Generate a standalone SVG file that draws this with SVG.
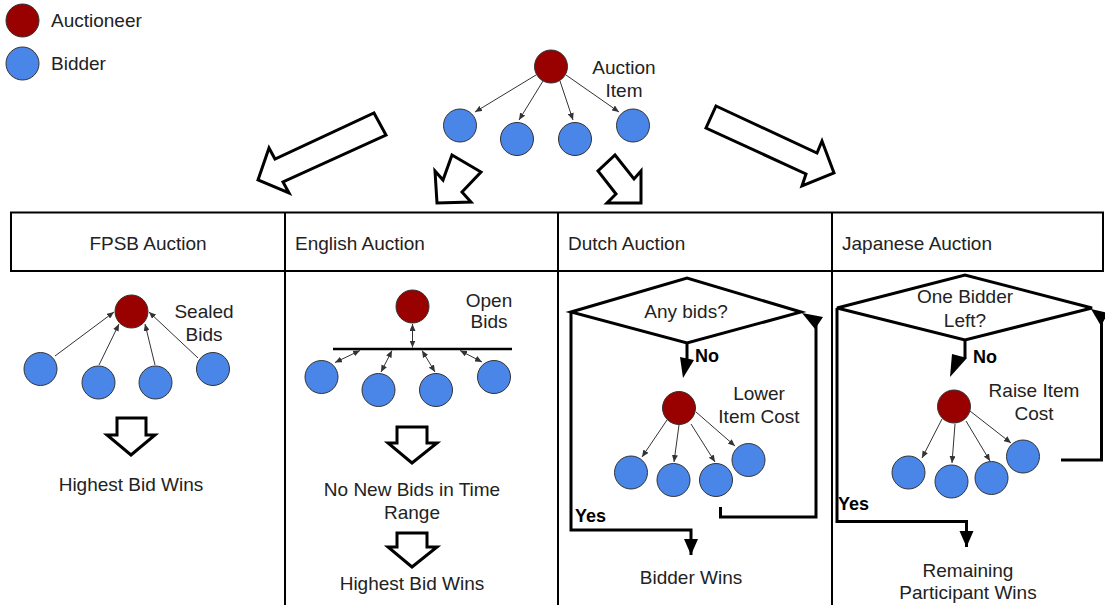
<svg xmlns="http://www.w3.org/2000/svg" width="1105" height="605" viewBox="0 0 1105 605">
  <style>
    text { font-family: "Liberation Sans", Arial, sans-serif; font-size: 19px; fill: #222; }
    .c { text-anchor: middle; }
    .b { font-weight: bold; font-size: 18px; fill: #000; }
    .auc { fill: #990000; stroke: #333; stroke-width: 1; }
    .bid { fill: #4a86e8; stroke: #333; stroke-width: 1; }
    .thin { stroke: #333; stroke-width: 1; fill: none; marker-end: url(#tip); }
    .dbl { stroke: #333; stroke-width: 1; fill: none; marker-end: url(#tip); marker-start: url(#tip); }
    .big { fill: #fff; stroke: #000; stroke-width: 3; stroke-linejoin: miter; }
    .grid { stroke: #000; stroke-width: 2; fill: none; }
    .flow { stroke: #000; stroke-width: 3; fill: none; }
    .head { fill: #000; stroke: none; }
  </style>
  <defs>
    <marker id="tip" markerUnits="userSpaceOnUse" markerWidth="7" markerHeight="6" refX="7" refY="3" orient="auto-start-reverse">
      <path d="M0,0 L7,3 L0,6 z" fill="#333"/>
    </marker>
    <marker id="bighead" markerUnits="userSpaceOnUse" markerWidth="16" markerHeight="16" refX="16" refY="7" orient="auto">
      <path d="M0,0 L16,7 L0,14 z" fill="#000"/>
    </marker>
  </defs>

  <!-- legend -->
  <g id="legend">
    <circle class="auc" cx="22.5" cy="20.5" r="16.5"/>
    <text x="51" y="27">Auctioneer</text>
    <circle class="bid" cx="22.5" cy="63.5" r="16.5"/>
    <text x="51" y="70">Bidder</text>
  </g>

  <!-- central auction item tree -->
  <g id="item-tree">
    <circle class="auc" cx="551" cy="66.5" r="16.5"/>
    <circle class="bid" cx="460" cy="125.5" r="16.5"/>
    <circle class="bid" cx="517" cy="139" r="16.5"/>
    <circle class="bid" cx="575" cy="139" r="16.5"/>
    <circle class="bid" cx="633" cy="125.5" r="16.5"/>
    <text class="c" x="624" y="74">Auction</text>
    <text class="c" x="624" y="97">Item</text>
  </g>

  <!-- hollow arrows fanning out to the four auction types -->
  <g id="fan-arrows">
    <polygon class="big" points="374,113 386,135 283,182 289,193 258,180 269,148 275,159"/>
    <polygon class="big" points="452,155 481,172 462,192 471,202 437,203 435,171 443,180"/>
    <polygon class="big" points="615,155 634,179 641,171 641,203 607,203 616,194 598,171"/>
    <polygon class="big" points="716,106 817,153 822,141 834,173 802,186 806,174 706,128"/>
  </g>

  <!-- table frame -->
  <g id="table">
    <rect class="grid" x="11" y="212.5" width="1092" height="58.5"/>
    <line class="grid" x1="285" y1="212.5" x2="285" y2="605"/>
    <line class="grid" x1="558" y1="212.5" x2="558" y2="605"/>
    <line class="grid" x1="832" y1="212.5" x2="832" y2="605"/>
    <text class="c" x="148" y="250">FPSB Auction</text>
    <text x="295" y="250">English Auction</text>
    <text x="568" y="250">Dutch Auction</text>
    <text x="842" y="250">Japanese Auction</text>
  </g>

  <!-- FPSB -->
  <g id="fpsb">
    <circle class="auc" cx="131.5" cy="311.5" r="16.5"/>
    <circle class="bid" cx="40.5" cy="369" r="16.5"/>
    <circle class="bid" cx="98.5" cy="382.5" r="16.5"/>
    <circle class="bid" cx="155.5" cy="382.5" r="16.5"/>
    <circle class="bid" cx="213" cy="369" r="16.5"/>
    <text class="c" x="204" y="318">Sealed</text>
    <text class="c" x="204" y="341">Bids</text>
    <polygon class="big" points="117,418 146,418 146,435 155,435 131,455 107,435 117,435"/>
    <text class="c" x="131" y="491">Highest Bid Wins</text>
  </g>

  <!-- English -->
  <g id="english">
    <circle class="auc" cx="412.5" cy="306.5" r="16.5"/>
    <line x1="333" y1="349" x2="512" y2="349" stroke="#000" stroke-width="2.5"/>
    <circle class="bid" cx="321.5" cy="377" r="16.5"/>
    <circle class="bid" cx="378.5" cy="390" r="16.5"/>
    <circle class="bid" cx="436" cy="390" r="16.5"/>
    <circle class="bid" cx="494" cy="377" r="16.5"/>
    <text class="c" x="489" y="307">Open</text>
    <text class="c" x="489" y="328">Bids</text>
    <polygon class="big" points="397,427 427,427 427,443 437,443 412,463 388,443 397,443"/>
    <text class="c" x="412" y="496">No New Bids in Time</text>
    <text class="c" x="412" y="519">Range</text>
    <polygon class="big" points="397,533 427,533 427,547 437,547 412,567 388,547 397,547"/>
    <text class="c" x="412" y="590">Highest Bid Wins</text>
  </g>

  <!-- Dutch -->
  <g id="dutch">
    <polygon class="flow" points="571,312 687,278 801,312 687,343" fill="#fff"/>
    <text class="c" x="686" y="318">Any bids?</text>
    <text class="b" x="695" y="362">No</text>
    <circle class="auc" cx="679" cy="408" r="16.5"/>
    <circle class="bid" cx="631" cy="472.5" r="16.5"/>
    <circle class="bid" cx="673.5" cy="480" r="16.5"/>
    <circle class="bid" cx="716" cy="480" r="16.5"/>
    <circle class="bid" cx="748.5" cy="460" r="16.5"/>
    <text class="c" x="759" y="400">Lower</text>
    <text class="c" x="759" y="423">Item Cost</text>
    <text class="b" x="575" y="522">Yes</text>
    <text class="c" x="691" y="584">Bidder Wins</text>
  </g>

  <!-- Japanese -->
  <g id="japanese">
    <polygon class="flow" points="837,308 965,275 1092,308 965,340" fill="#fff"/>
    <text class="c" x="965" y="303">One Bidder</text>
    <text class="c" x="965" y="327">Left?</text>
    <text class="b" x="973" y="363">No</text>
    <circle class="auc" cx="954" cy="406.5" r="16.5"/>
    <circle class="bid" cx="908.5" cy="472.5" r="16.5"/>
    <circle class="bid" cx="951.5" cy="481.5" r="16.5"/>
    <circle class="bid" cx="991.5" cy="478" r="16.5"/>
    <circle class="bid" cx="1023" cy="456.5" r="16.5"/>
    <text class="c" x="1034" y="397">Raise Item</text>
    <text class="c" x="1034" y="420">Cost</text>
    <text class="b" x="838" y="510">Yes</text>
    <text class="c" x="968" y="577">Remaining</text>
    <text class="c" x="968" y="599">Participant Wins</text>
  </g>

  <!-- connectors -->
  <g id="connectors">
    <!-- item tree -->
    <line class="thin" x1="536" y1="75" x2="475" y2="112"/>
    <line class="thin" x1="543" y1="81" x2="519" y2="120"/>
    <line class="thin" x1="560" y1="81" x2="573" y2="120"/>
    <line class="thin" x1="566" y1="75" x2="619" y2="112"/>
    <!-- sealed bids -->
    <line class="thin" x1="55" y1="356" x2="114" y2="312"/>
    <line class="thin" x1="99" y1="365" x2="119" y2="324"/>
    <line class="thin" x1="155" y1="365" x2="145" y2="324"/>
    <line class="thin" x1="198" y1="358" x2="149" y2="312"/>
    <!-- open bids -->
    <line class="dbl" x1="412.5" y1="324" x2="412.5" y2="347.5"/>
    <line class="dbl" x1="360" y1="350.5" x2="335" y2="362.5"/>
    <line class="dbl" x1="392" y1="350.5" x2="381" y2="372"/>
    <line class="dbl" x1="422" y1="350.5" x2="435" y2="372"/>
    <line class="dbl" x1="460" y1="350.5" x2="482" y2="362"/>
    <!-- dutch price drop -->
    <line class="thin" x1="667" y1="420" x2="642" y2="457"/>
    <line class="thin" x1="679" y1="425" x2="674" y2="462"/>
    <line class="thin" x1="691" y1="424" x2="715" y2="462"/>
    <line class="thin" x1="696" y1="412" x2="735" y2="446"/>
    <!-- japanese price rise -->
    <line class="thin" x1="942" y1="419" x2="922" y2="458"/>
    <line class="thin" x1="955" y1="424" x2="952" y2="463"/>
    <line class="thin" x1="966" y1="421" x2="990" y2="461"/>
    <line class="thin" x1="970" y1="411" x2="1011" y2="443"/>
    <!-- dutch flow -->
    <path class="flow" d="M687,343 V359"/>
    <polygon class="head" points="680,357 694,360 683,378"/>
    <path class="flow" d="M571,312 V530 H691 V555" marker-end="url(#bighead)"/>
    <path class="flow" d="M720.5,507 V517 H816 V322"/>
    <polygon class="head" points="802,313 823,317 815,329"/>
    <!-- japanese flow -->
    <path class="flow" d="M965,340 V358"/>
    <polygon class="head" points="952,354 967,358 950,377"/>
    <path class="flow" d="M837,308 V521.5 H966.5 V547" marker-end="url(#bighead)"/>
    <path class="flow" d="M1061,460 H1101.5 V322"/>
    <polygon class="head" points="1091,309 1108,313 1101,326"/>
  </g>
</svg>
